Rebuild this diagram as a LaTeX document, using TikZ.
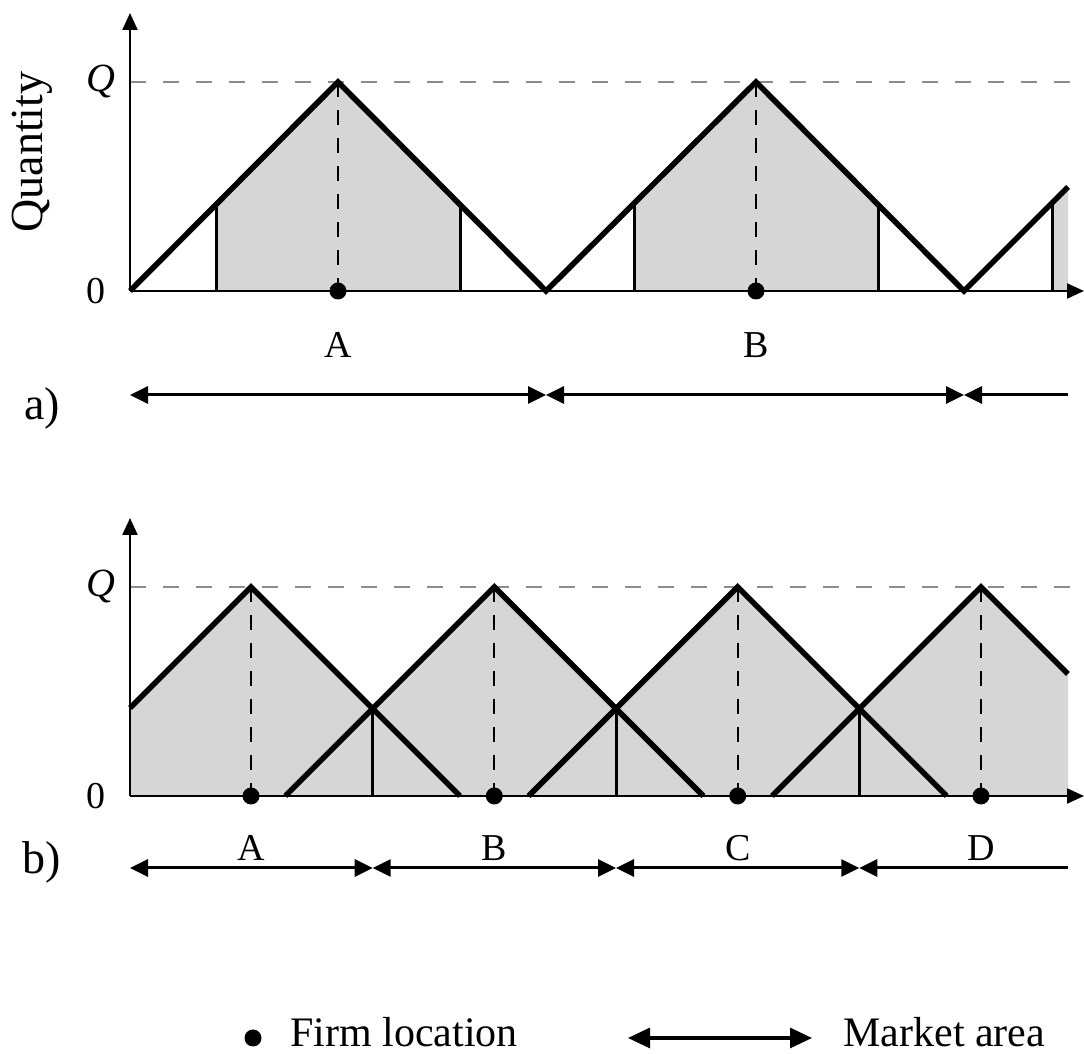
\documentclass[tikz,border=0pt]{standalone}
\usepackage{fontspec}
\setmainfont{Liberation Serif}
\definecolor{areagray}{HTML}{D6D6D6}
\definecolor{guidegray}{HTML}{8C8C8C}
\usetikzlibrary{arrows.meta,positioning}

\begin{document}
\begin{tikzpicture}[x=0.5pt,y=0.5pt,
  axis/.style={line width=1.1pt,-{Triangle[length=8.5pt,width=7.5pt]}},
  demand/.style={line width=2.8pt,line join=miter},
  cutoff/.style={line width=1.5pt},
  peakline/.style={line width=0.9pt,dash pattern=on 7.5pt off 6.5pt},
  qline/.style={guidegray,line width=0.8pt,dash pattern=on 8pt off 8.5pt},
  market/.style={line width=1.5pt,{Triangle[length=9pt,width=8.5pt]}-{Triangle[length=9pt,width=8.5pt]}},
  marketend/.style={line width=1.5pt,{Triangle[length=9pt,width=8.5pt]}-},
  firm/.style={circle,fill,inner sep=0pt,minimum size=8.5pt},
  lbl/.style={inner sep=0pt,font=\fontsize{19}{21}\selectfont},
  big/.style={inner sep=0pt,font=\fontsize{21}{23}\selectfont}]
  \useasboundingbox (0,0) rectangle (1084,1054);

  % a) few firms, gaps between market areas
  \begin{scope}[shift={(130,763)}]
  \foreach \p in {208,626} \fill[areagray] (\p-122,0) -- ++(0,86) -- (\p,209) -- (\p+122,86) -- ++(0,-86) -- cycle;
  \fill[areagray] (922,0) -- (922,88) -- (938,104) -- (938,0) -- cycle;
  \draw[qline] (0,209) -- (954,209);
  \draw[axis] (0,0) -- (954,0);
  \draw[axis] (0,0) -- (0,278);
  \draw[demand] (0,0) -- (208,209) -- (416,0) -- (626,209) -- (834,0) -- (938,104);
  \foreach \p in {208,626} \draw[cutoff] (\p-122,0) -- ++(0,86) (\p+122,0) -- ++(0,86);
  \draw[cutoff] (922,0) -- ++(0,88);
  \foreach \p/\n in {208/A,626/B} {
    \draw[peakline] (\p,209) -- (\p,0);
    \node[firm] (firma\n) at (\p,0) {};
    \node[lbl,below=27pt of firma\n.center,anchor=center] (labela\n) {\n};
  }
  \end{scope}
  \node[big,rotate=90,font=\fontsize{23}{25}\selectfont] (qty) at (32,902) {Quantity};
  \node[lbl,font=\fontsize{20}{22}\selectfont\itshape] (qa) at (101,972) {Q};
  \node[lbl] (za) at (96,763) {0};
  \node[big,font=\fontsize{23}{25}\selectfont] (parta) at (42,646) {a)};
  \coordinate (ma0) at (130,659);
  \coordinate (ma1) at (546,659);
  \coordinate (ma2) at (964,659);
  \coordinate (ma3) at (1068,659);
  \draw[market] (ma0) -- (ma1);
  \draw[market] (ma1) -- (ma2);
  \draw[marketend] (ma2) -- (ma3);

  % b) more firms, overlapping demand
  \begin{scope}[shift={(130,258)}]
  \fill[areagray] (0,0) -- (0,88) -- (121,209) -- (242.7,87.3) -- (364.3,209) -- (486,87.3) -- (607.7,209) -- (729.3,87.3) -- (851,209) -- (938,122) -- (938,0) -- cycle;
  \draw[qline] (0,209) -- (954,209);
  \draw[axis] (0,0) -- (954,0);
  \draw[axis] (0,0) -- (0,278);
  \draw[demand] (0,88) -- (121,209) -- (330,0);
  \draw[demand] (155.3,0) -- (364.3,209) -- (573.3,0);
  \draw[demand] (398.7,0) -- (607.7,209) -- (816.7,0);
  \draw[demand] (642,0) -- (851,209) -- (938,122);
  \foreach \c in {242.7,486,729.3} \draw[cutoff] (\c,0) -- (\c,87.3);
  \foreach \p/\n in {121/A,364.3/B,607.7/C,851/D} {
    \draw[peakline] (\p,209) -- (\p,0);
    \node[firm] (firmb\n) at (\p,0) {};
    \node[lbl,below=26pt of firmb\n.center,anchor=center] (labelb\n) {\n};
  }
  \end{scope}
  \node[lbl,font=\fontsize{20}{22}\selectfont\itshape] (qb) at (101,467) {Q};
  \node[lbl] (zb) at (96,258) {0};
  \node[big,font=\fontsize{23}{25}\selectfont] (partb) at (42,192) {b)};
  \coordinate (mb0) at (130,186);
  \coordinate (mb1) at (372.7,186);
  \coordinate (mb2) at (616,186);
  \coordinate (mb3) at (859.3,186);
  \coordinate (mb4) at (1068,186);
  \draw[market] (mb0) -- (mb1);
  \draw[market] (mb1) -- (mb2);
  \draw[market] (mb2) -- (mb3);
  \draw[marketend] (mb3) -- (mb4);

  % legend
  \node[firm] (keyfirm) at (253,16) {};
  \node[big,anchor=base west] (keyfirmtext) at (290,7) {Firm location};
  \coordinate (keyl) at (628,16);
  \coordinate (keyr) at (812,16);
  \draw[line width=1.6pt,{Triangle[length=11pt,width=10pt]}-{Triangle[length=11pt,width=10pt]}] (keyl) -- (keyr);
  \node[big,anchor=base west] (keymarket) at (843,7) {Market area};
\end{tikzpicture}
\end{document}
